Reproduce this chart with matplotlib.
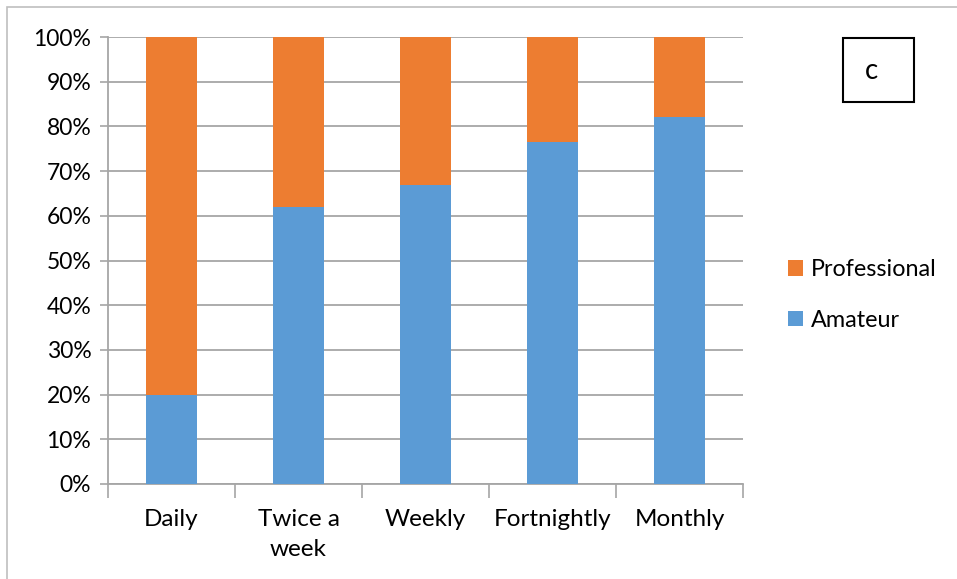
import matplotlib
matplotlib.use("Agg")
import matplotlib.pyplot as plt
from matplotlib.patches import Rectangle
import numpy as np

categories = ["Daily", "Twice a\nweek", "Weekly", "Fortnightly", "Monthly"]
amateur = [20, 62, 67, 76.5, 82]
professional = [100 - a for a in amateur]
y_ticks = list(range(0, 101, 10))
y_labels = [f"{t}%" for t in y_ticks]

W, H = 957, 579
fig = plt.figure(figsize=(W / 100, H / 100), dpi=100)
plt.rcParams['font.family'] = ['Lato', 'DejaVu Sans']
FS = 17.5

# outer chart frame
fig.patches.append(Rectangle((7 / W, -0.1), 1.2, 1.1 - 7 / H, transform=fig.transFigure,
                             fill=False, edgecolor="#BFBFBF", linewidth=1.2))

ax = fig.add_axes([108 / W, 1 - 484 / H, (743 - 108) / W, (484 - 37) / H])
x = np.arange(len(categories))
blue = "#5B9BD5"
orange = "#ED7D31"
ax.bar(x, amateur, width=0.4, color=blue, label="Amateur", zorder=3)
ax.bar(x, professional, width=0.4, bottom=amateur, color=orange, label="Professional", zorder=3)

ax.set_xlim(-0.5, len(categories) - 0.5)
ax.set_ylim(0, 100)
ax.set_yticks(y_ticks)
ax.set_yticklabels(y_labels, fontsize=16.5)
ax.set_xticks(x)
ax.set_xticklabels(categories, fontsize=FS, linespacing=1.55)
ax.set_xticks(np.arange(-0.5, len(categories)), minor=True)
ax.tick_params(axis="x", which="major", length=0, pad=18)
ax.tick_params(axis="x", which="minor", length=10, color="#A6A6A6", width=1.2)
ax.tick_params(axis="y", length=6, color="#A6A6A6", width=1.2, pad=6)
ax.yaxis.grid(True, color="#A6A6A6", linewidth=1.3, zorder=0)
ax.set_axisbelow(True)
for s in ["top", "right"]:
    ax.spines[s].set_visible(False)
for s in ["left", "bottom"]:
    ax.spines[s].set_color("#A6A6A6")
    ax.spines[s].set_linewidth(1.3)

handles, labels = ax.get_legend_handles_labels()
leg = fig.legend(handles[::-1], labels[::-1], loc="center left",
                 bbox_to_anchor=(767 / W, 1 - 295 / H), frameon=False,
                 fontsize=16.8, handlelength=0.65, handleheight=0.65,
                 handletextpad=0.35, labelspacing=1.25)

# "c" box
fig.patches.append(Rectangle((843 / W, 1 - 102 / H), 71 / W, 64 / H, transform=fig.transFigure,
                             fill=False, edgecolor="black", linewidth=1.5))
fig.text(871 / W, 1 - 71 / H, "c", fontsize=20, ha="center", va="center")

fig.savefig("out.png", dpi=100)
